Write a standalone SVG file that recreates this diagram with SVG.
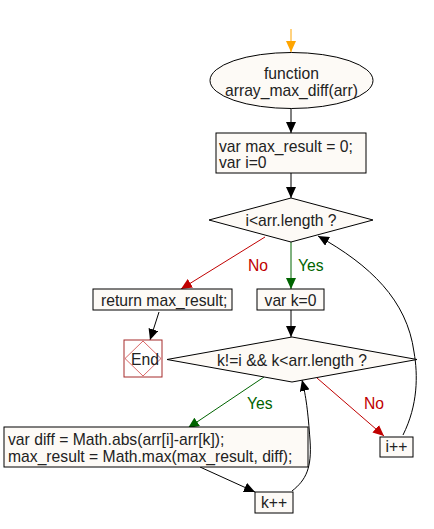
<svg xmlns="http://www.w3.org/2000/svg" width="434" height="529" viewBox="0 0 434 529">
<style>
.n{fill:#fdfaf6;stroke:#000;stroke-width:1}
.t{font-family:"Liberation Sans",Arial,sans-serif;font-size:15.7px;fill:#222}
.c{text-anchor:middle}
.e{fill:none;stroke:#000;stroke-width:1}
.g{stroke:#006400}
.r{stroke:#c00000}
.o{stroke:#ffa500}
.lg{fill:#006400}
.lr{fill:#c00000}
</style>
<defs>
<marker id="ak" markerUnits="userSpaceOnUse" markerWidth="12" markerHeight="10" refX="11" refY="5" orient="auto"><path d="M0,0 L11,5 L0,10 z" fill="#000"/></marker>
<marker id="ag" markerUnits="userSpaceOnUse" markerWidth="12" markerHeight="10" refX="11" refY="5" orient="auto"><path d="M0,0 L11,5 L0,10 z" fill="#006400"/></marker>
<marker id="ar" markerUnits="userSpaceOnUse" markerWidth="12" markerHeight="10" refX="11" refY="5" orient="auto"><path d="M0,0 L11,5 L0,10 z" fill="#c00000"/></marker>
<marker id="ao" markerUnits="userSpaceOnUse" markerWidth="12" markerHeight="10" refX="11" refY="5" orient="auto"><path d="M0,0 L11,5 L0,10 z" fill="#ffa500"/></marker>
</defs>
<rect width="434" height="529" fill="#fff"/>
<g id="connectors">
<path class="e o" d="M291,29 L291,52" marker-end="url(#ao)"/>
<path class="e" d="M291,108 L291,133" marker-end="url(#ak)"/>
<path class="e" d="M291,173 L291,198" marker-end="url(#ak)"/>
<path class="e g" d="M291,242 L291,289" marker-end="url(#ag)"/>
<text class="t lg" x="298" y="271">Yes</text>
<path class="e r" d="M265,237 L181,289" marker-end="url(#ar)"/>
<text class="t lr" x="248" y="271">No</text>
<path class="e" d="M159,312 L150,340" marker-end="url(#ak)"/>
<path class="e" d="M291,310 L291,337" marker-end="url(#ak)"/>
<path class="e g" d="M264,377 L188,428" marker-end="url(#ag)"/>
<text class="t lg" x="247" y="409">Yes</text>
<path class="e r" d="M317,378 L384,436" marker-end="url(#ar)"/>
<text class="t lr" x="364" y="409">No</text>
<path class="e" d="M403,435 C418,405 418,375 414,352 C407,300 370,265 318,236" marker-end="url(#ak)"/>
<path class="e" d="M200,467 L255,492" marker-end="url(#ak)"/>
<path class="e" d="M292,491 C306,480 312,468 310,440 C308,412 306,396 302,380" marker-end="url(#ak)"/>
</g>
<g id="start">
<ellipse class="n" cx="291.5" cy="80.5" rx="81.5" ry="28"/>
<text class="t c" x="291.5" y="79">function</text>
<text class="t c" x="291.5" y="96">array_max_diff(arr)</text>
</g>
<g id="init">
<rect class="n" x="216" y="133" width="150" height="40"/>
<text class="t" x="219" y="152">var max_result = 0;</text>
<text class="t" x="219" y="168">var i=0</text>
</g>
<g id="cond1">
<polygon class="n" points="291,198 373,220 291,242 209,220"/>
<text class="t c" x="291" y="226">i&lt;arr.length ?</text>
</g>
<g id="ret">
<rect class="n" x="93" y="289" width="139" height="21"/>
<text class="t" x="101" y="306">return max_result;</text>
</g>
<g id="end">
<rect x="124" y="340" width="38" height="37" fill="#fff" stroke="#a52a2a" stroke-width="1"/>
<polygon points="143,341 161,358.5 143,376 125,358.5" fill="none" stroke="#c00000" stroke-width="0.6"/>
<text class="t c" x="145" y="365">End</text>
</g>
<g id="initk">
<rect class="n" x="257" y="289" width="67" height="21"/>
<text class="t c" x="290.5" y="306">var k=0</text>
</g>
<g id="cond2">
<polygon class="n" points="292,337 417,359.5 292,382 167,359.5"/>
<text class="t c" x="292" y="366">k!=i &amp;&amp; k&lt;arr.length ?</text>
</g>
<g id="body">
<rect class="n" x="4" y="427" width="304" height="40"/>
<text class="t" x="8" y="445">var diff = Math.abs(arr[i]-arr[k]);</text>
<text class="t" x="8" y="462">max_result = Math.max(max_result, diff);</text>
</g>
<g id="inci">
<rect class="n" x="380" y="437" width="33" height="20"/>
<text class="t c" x="396.5" y="452">i++</text>
</g>
<g id="inck">
<rect class="n" x="255" y="492" width="38" height="21"/>
<text class="t c" x="274" y="508">k++</text>
</g>
</svg>
